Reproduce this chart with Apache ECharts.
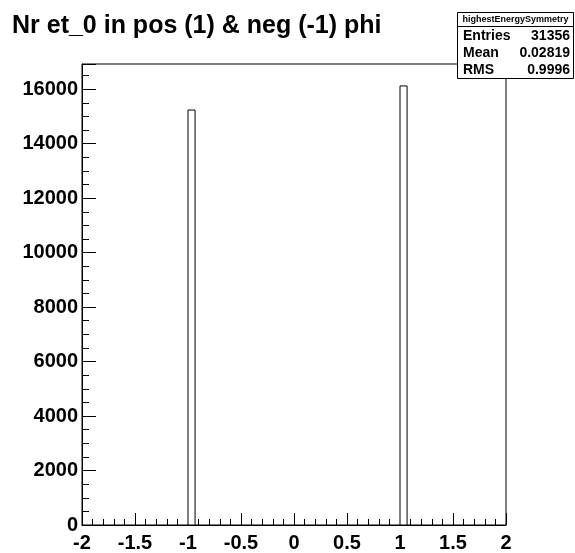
<!DOCTYPE html>
<html lang="en">
<head>
    <meta charset="UTF-8">
    <script src="https://cdn.jsdelivr.net/npm/echarts@6.0.0/dist/echarts.min.js"></script>
    <title>highestEnergySymmetry</title>
    <style>
        html, body { margin: 0; padding: 0; background: #fff; }
    </style>
</head>
<body>
<div id="main" style="width: 575px;height:553px;"></div>

<script>
    // histogram: 60 bins from -2 to 2, only two are filled
    var binWidth = 4 / 60;
    var binLow = [-1.0, 1.0];
    var binCount = [15236, 16120];

    var xTicks = [-2, -1.5, -1, -0.5, 0, 0.5, 1, 1.5, 2];
    var yTicks = [0, 2000, 4000, 6000, 8000, 10000, 12000, 14000, 16000];

    var statNames = ['Entries', 'Mean', 'RMS'];
    var statValues = ['31356', '0.02819', '0.9996'];

    var font = 'Liberation Sans, Arial, Helvetica, sans-serif';
    var yMax = 1.05 * Math.max.apply(null, binCount);

    var data = [];
    for (var i = 0; i < binLow.length; i++) {
        data.push([binLow[i], binCount[i]]);
    }

    // stats box
    var statsGraphic = [
        {
            type: 'rect', z: 100,
            shape: { x: 457.5, y: 12.5, width: 116, height: 66 },
            style: { fill: '#fff', stroke: '#000', lineWidth: 1 }
        },
        {
            type: 'line', z: 101,
            shape: { x1: 457.5, y1: 26.5, x2: 573.5, y2: 26.5 },
            style: { stroke: '#000', lineWidth: 1 }
        },
        {
            type: 'text', z: 101, x: 515.5, y: 19.5,
            style: { text: 'highestEnergySymmetry', font: 'bold 9px ' + font, fill: '#000', align: 'center', verticalAlign: 'middle' }
        }
    ];
    for (var k = 0; k < statNames.length; k++) {
        statsGraphic.push({
            type: 'text', z: 101, x: 463, y: 36 + k * 17,
            style: { text: statNames[k], font: 'bold 14px ' + font, fill: '#000', align: 'left', verticalAlign: 'middle' }
        });
        statsGraphic.push({
            type: 'text', z: 101, x: 570, y: 36 + k * 17,
            style: { text: statValues[k], font: 'bold 14px ' + font, fill: '#000', align: 'right', verticalAlign: 'middle' }
        });
    }

    var chartDom = document.getElementById('main');
    var myChart = echarts.init(chartDom);
    var option = {
        animation: false,
        backgroundColor: '#fff',
        title: {
            text: 'Nr et_0 in pos (1) & neg (-1) phi',
            left: 12,
            top: 14,
            padding: 0,
            textStyle: { fontFamily: font, fontWeight: 'bold', fontSize: 25, color: '#000' }
        },
        grid: {
            left: 82, right: 69, top: 64, bottom: 25,
            show: true, borderColor: '#000', borderWidth: 1, backgroundColor: '#fff'
        },
        xAxis: {
            type: 'value',
            min: xTicks[0],
            max: xTicks[xTicks.length - 1],
            interval: 0.5,
            axisLine: { onZero: false, lineStyle: { color: '#000', width: 1 } },
            axisTick: { inside: true, length: 12, lineStyle: { color: '#000' } },
            minorTick: { show: true, splitNumber: 5, length: 6, lineStyle: { color: '#000' } },
            splitLine: { show: false },
            axisLabel: {
                margin: 8,
                fontFamily: font, fontWeight: 'bold', fontSize: 20, color: '#000',
                formatter: function (v) { return xTicks.indexOf(v) >= 0 ? String(v) : ''; }
            }
        },
        yAxis: [
            {
                type: 'value',
                min: 0,
                max: yMax,
                interval: 2000,
                axisLine: { show: true, onZero: false, lineStyle: { color: '#000', width: 1 } },
                axisTick: { show: true, inside: true, length: 14, lineStyle: { color: '#000' } },
                splitLine: { show: false },
                axisLabel: {
                    margin: 4,
                    fontFamily: font, fontWeight: 'bold', fontSize: 20, color: '#000',
                    formatter: function (v) { return yTicks.indexOf(v) >= 0 ? String(v) : ''; }
                }
            },
            {
                type: 'value',
                position: 'left',
                min: 0,
                max: yMax,
                interval: 500,
                axisLine: { show: false, onZero: false },
                axisTick: { show: true, inside: true, length: 7, lineStyle: { color: '#000' } },
                splitLine: { show: false },
                axisLabel: { show: false }
            }
        ],
        graphic: statsGraphic,
        series: [
            {
                type: 'custom',
                name: 'highestEnergySymmetry',
                data: data,
                renderItem: function (params, api) {
                    var lo = api.value(0);
                    var p0 = api.coord([lo, 0]);
                    var p1 = api.coord([lo + binWidth, api.value(1)]);
                    return {
                        type: 'rect',
                        shape: { x: p0[0], y: p1[1], width: p1[0] - p0[0], height: p0[1] - p1[1] },
                        style: { fill: '#fff', stroke: '#000', lineWidth: 1 }
                    };
                }
            }
        ]
    };
    myChart.setOption(option);
</script>
</body>
</html>
